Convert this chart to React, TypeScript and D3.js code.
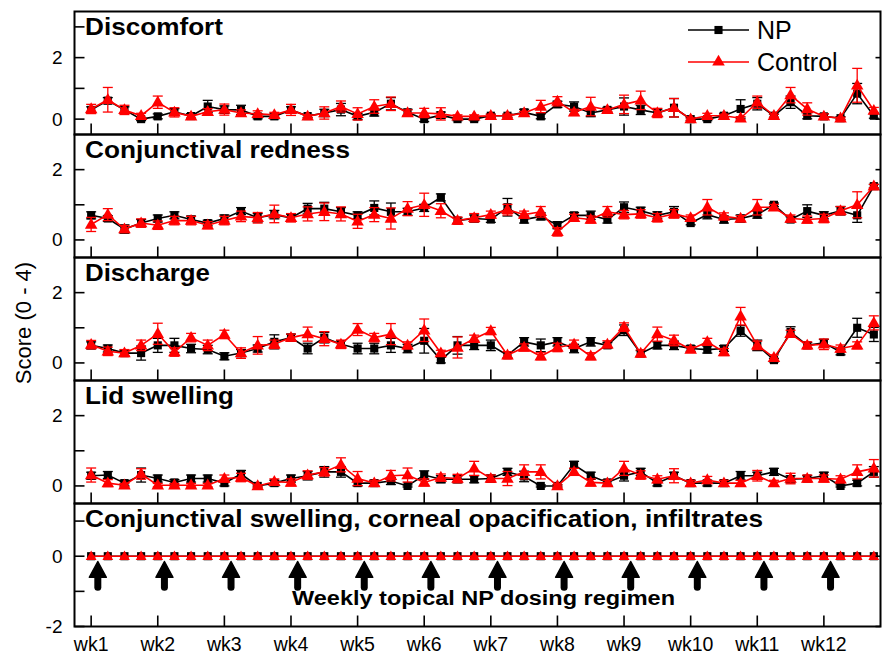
import { useEffect, useRef } from "react";
import * as d3 from "d3";

// x axis: 12 weeks, 4 observations per week
const weekLabels = ["wk1", "wk2", "wk3", "wk4", "wk5", "wk6", "wk7", "wk8", "wk9", "wk10", "wk11", "wk12"];
const obsPerWeek = 4;

// Discomfort
const npDiscomfort = [0.3, 0.6, 0.3, 0.0, 0.09, 0.24, 0.1, 0.41, 0.31, 0.3, 0.09, 0.09, 0.3, 0.1, 0.2, 0.31, 0.09, 0.22, 0.5, 0.22, 0.0, 0.13, 0.0, 0.0, 0.11, 0.11, 0.22, 0.09, 0.48, 0.41, 0.2, 0.3, 0.41, 0.3, 0.2, 0.37, 0.0, 0.0, 0.11, 0.33, 0.5, 0.11, 0.55, 0.11, 0.09, 0.03, 0.83, 0.11];
const npErrDiscomfort = [0.1, 0.1, 0.1, 0.05, 0.08, 0.1, 0.08, 0.2, 0.12, 0.15, 0.08, 0.08, 0.1, 0.05, 0.12, 0.2, 0.1, 0.12, 0.2, 0.1, 0.08, 0.1, 0.05, 0.05, 0.05, 0.05, 0.1, 0.08, 0.1, 0.15, 0.12, 0.08, 0.28, 0.15, 0.12, 0.3, 0.05, 0.05, 0.08, 0.3, 0.2, 0.05, 0.2, 0.1, 0.08, 0.05, 0.33, 0.08];
const ctrlDiscomfort = [0.33, 0.63, 0.3, 0.11, 0.55, 0.22, 0.09, 0.24, 0.31, 0.2, 0.17, 0.14, 0.3, 0.09, 0.2, 0.41, 0.17, 0.41, 0.5, 0.2, 0.2, 0.17, 0.09, 0.09, 0.11, 0.11, 0.2, 0.41, 0.58, 0.22, 0.41, 0.3, 0.48, 0.61, 0.2, 0.37, 0.0, 0.11, 0.11, 0.03, 0.55, 0.11, 0.78, 0.33, 0.09, 0.03, 1.1, 0.28];
const ctrlErrDiscomfort = [0.15, 0.4, 0.15, 0.08, 0.2, 0.15, 0.05, 0.1, 0.18, 0.1, 0.1, 0.08, 0.18, 0.05, 0.2, 0.18, 0.2, 0.22, 0.22, 0.1, 0.15, 0.2, 0.05, 0.05, 0.05, 0.05, 0.05, 0.2, 0.15, 0.1, 0.3, 0.05, 0.3, 0.3, 0.15, 0.3, 0.03, 0.08, 0.05, 0.05, 0.2, 0.05, 0.25, 0.2, 0.08, 0.03, 0.55, 0.1];

// Conjunctival redness
const npRedness = [0.7, 0.61, 0.31, 0.48, 0.61, 0.7, 0.58, 0.48, 0.61, 0.82, 0.63, 0.72, 0.63, 0.89, 0.89, 0.8, 0.7, 0.91, 0.8, 0.8, 0.91, 1.21, 0.55, 0.61, 0.58, 0.93, 0.58, 0.67, 0.42, 0.7, 0.7, 0.58, 0.93, 0.83, 0.7, 0.8, 0.48, 0.72, 0.58, 0.61, 0.72, 1.0, 0.58, 0.82, 0.7, 0.83, 0.7, 1.53];
const npErrRedness = [0.1, 0.08, 0.12, 0.1, 0.1, 0.1, 0.1, 0.08, 0.1, 0.1, 0.12, 0.12, 0.1, 0.15, 0.18, 0.12, 0.1, 0.2, 0.25, 0.1, 0.1, 0.1, 0.08, 0.1, 0.08, 0.25, 0.1, 0.1, 0.1, 0.08, 0.12, 0.1, 0.15, 0.1, 0.1, 0.15, 0.05, 0.12, 0.1, 0.1, 0.1, 0.05, 0.08, 0.18, 0.1, 0.12, 0.2, 0.05];
const ctrlRedness = [0.44, 0.72, 0.31, 0.48, 0.42, 0.55, 0.55, 0.42, 0.55, 0.67, 0.63, 0.74, 0.63, 0.74, 0.8, 0.74, 0.53, 0.72, 0.61, 0.89, 1.0, 0.83, 0.55, 0.63, 0.72, 0.86, 0.72, 0.8, 0.23, 0.63, 0.58, 0.8, 0.72, 0.74, 0.63, 0.74, 0.63, 0.93, 0.67, 0.61, 0.93, 0.93, 0.61, 0.58, 0.61, 0.83, 1.0, 1.53];
const ctrlErrRedness = [0.2, 0.17, 0.1, 0.12, 0.12, 0.12, 0.12, 0.1, 0.12, 0.15, 0.15, 0.25, 0.12, 0.2, 0.25, 0.2, 0.2, 0.2, 0.3, 0.2, 0.33, 0.2, 0.1, 0.12, 0.1, 0.15, 0.1, 0.15, 0.12, 0.1, 0.1, 0.15, 0.12, 0.12, 0.12, 0.12, 0.08, 0.22, 0.1, 0.08, 0.22, 0.08, 0.1, 0.1, 0.12, 0.12, 0.37, 0.05];

// Discharge
const npDischarge = [0.5, 0.41, 0.28, 0.28, 0.5, 0.5, 0.41, 0.38, 0.19, 0.28, 0.41, 0.6, 0.72, 0.41, 0.72, 0.53, 0.41, 0.41, 0.5, 0.41, 0.63, 0.08, 0.5, 0.5, 0.5, 0.22, 0.6, 0.5, 0.6, 0.41, 0.6, 0.5, 0.93, 0.27, 0.5, 0.5, 0.41, 0.38, 0.41, 0.91, 0.5, 0.08, 0.88, 0.5, 0.57, 0.31, 1.0, 0.81];
const npErrDischarge = [0.1, 0.1, 0.08, 0.2, 0.2, 0.2, 0.12, 0.12, 0.1, 0.1, 0.1, 0.2, 0.1, 0.15, 0.15, 0.1, 0.15, 0.15, 0.2, 0.12, 0.35, 0.08, 0.25, 0.12, 0.15, 0.08, 0.12, 0.18, 0.12, 0.12, 0.12, 0.08, 0.15, 0.08, 0.1, 0.12, 0.08, 0.1, 0.08, 0.15, 0.15, 0.05, 0.15, 0.08, 0.1, 0.08, 0.27, 0.2];
const ctrlDischarge = [0.52, 0.33, 0.28, 0.5, 0.83, 0.31, 0.72, 0.5, 0.81, 0.28, 0.5, 0.53, 0.72, 0.82, 0.69, 0.53, 0.95, 0.72, 0.82, 0.5, 0.93, 0.28, 0.44, 0.69, 0.91, 0.22, 0.44, 0.19, 0.44, 0.53, 0.19, 0.53, 1.02, 0.27, 0.82, 0.64, 0.38, 0.6, 0.31, 1.33, 0.5, 0.15, 0.83, 0.5, 0.53, 0.41, 0.5, 1.14];
const ctrlErrDischarge = [0.12, 0.12, 0.1, 0.15, 0.3, 0.12, 0.12, 0.15, 0.12, 0.15, 0.25, 0.12, 0.1, 0.2, 0.2, 0.12, 0.17, 0.12, 0.3, 0.1, 0.32, 0.08, 0.3, 0.1, 0.1, 0.1, 0.1, 0.1, 0.12, 0.12, 0.1, 0.1, 0.12, 0.1, 0.2, 0.15, 0.08, 0.1, 0.1, 0.25, 0.12, 0.08, 0.1, 0.1, 0.15, 0.1, 0.1, 0.2];

// Lid swelling
const npLid = [0.29, 0.31, 0.08, 0.31, 0.21, 0.1, 0.21, 0.21, 0.08, 0.34, 0.0, 0.08, 0.21, 0.29, 0.4, 0.4, 0.08, 0.08, 0.14, 0.0, 0.31, 0.19, 0.19, 0.19, 0.21, 0.4, 0.27, 0.0, 0.0, 0.6, 0.29, 0.1, 0.29, 0.4, 0.08, 0.29, 0.08, 0.08, 0.08, 0.29, 0.29, 0.4, 0.19, 0.21, 0.29, 0.0, 0.08, 0.4];
const npErrLid = [0.1, 0.1, 0.08, 0.2, 0.1, 0.08, 0.1, 0.1, 0.08, 0.1, 0.03, 0.08, 0.1, 0.12, 0.15, 0.15, 0.08, 0.08, 0.1, 0.03, 0.12, 0.1, 0.1, 0.1, 0.1, 0.1, 0.15, 0.03, 0.03, 0.1, 0.1, 0.08, 0.15, 0.1, 0.08, 0.1, 0.08, 0.08, 0.08, 0.12, 0.1, 0.1, 0.1, 0.08, 0.1, 0.03, 0.08, 0.15];
const ctrlLid = [0.31, 0.08, 0.02, 0.34, 0.02, 0.02, 0.02, 0.02, 0.21, 0.24, 0.0, 0.12, 0.1, 0.31, 0.4, 0.6, 0.21, 0.08, 0.29, 0.31, 0.1, 0.24, 0.21, 0.5, 0.21, 0.21, 0.4, 0.4, 0.0, 0.4, 0.1, 0.08, 0.5, 0.31, 0.19, 0.29, 0.08, 0.17, 0.08, 0.08, 0.29, 0.08, 0.21, 0.21, 0.21, 0.19, 0.4, 0.5];
const ctrlErrLid = [0.2, 0.1, 0.05, 0.15, 0.05, 0.05, 0.05, 0.05, 0.1, 0.12, 0.03, 0.08, 0.1, 0.12, 0.12, 0.2, 0.2, 0.08, 0.15, 0.2, 0.1, 0.1, 0.12, 0.2, 0.1, 0.2, 0.2, 0.2, 0.03, 0.1, 0.1, 0.08, 0.2, 0.12, 0.1, 0.2, 0.08, 0.1, 0.08, 0.08, 0.15, 0.08, 0.15, 0.1, 0.1, 0.1, 0.2, 0.25];

// Conjunctival swelling, corneal opacification, infiltrates
const npSwelling = [0, 0, 0, 0, 0, 0, 0, 0, 0, 0, 0, 0, 0, 0, 0, 0, 0, 0, 0, 0, 0, 0, 0, 0, 0, 0, 0, 0, 0, 0, 0, 0, 0, 0, 0, 0, 0, 0, 0, 0, 0, 0, 0, 0, 0, 0, 0, 0];
const ctrlSwelling = [0, 0, 0, 0, 0, 0, 0, 0, 0, 0, 0, 0, 0, 0, 0, 0, 0, 0, 0, 0, 0, 0, 0, 0, 0, 0, 0, 0, 0, 0, 0, 0, 0, 0, 0, 0, 0, 0, 0, 0, 0, 0, 0, 0, 0, 0, 0, 0];

const panelTitles = ["Discomfort", "Conjunctival redness", "Discharge", "Lid swelling", "Conjunctival swelling, corneal opacification, infiltrates"];
const titleWidths = [138, 265, 125, 149, 678];

const panels = [
  { np: npDiscomfort, npErr: npErrDiscomfort, ctrl: ctrlDiscomfort, ctrlErr: ctrlErrDiscomfort, domain: [-0.5, 3.5], ticks: [0, 1, 2, 3], labels: [0, 2] },
  { np: npRedness, npErr: npErrRedness, ctrl: ctrlRedness, ctrlErr: ctrlErrRedness, domain: [-0.5, 3], ticks: [0, 1, 2], labels: [0, 2] },
  { np: npDischarge, npErr: npErrDischarge, ctrl: ctrlDischarge, ctrlErr: ctrlErrDischarge, domain: [-0.5, 3], ticks: [0, 1, 2], labels: [0, 2] },
  { np: npLid, npErr: npErrLid, ctrl: ctrlLid, ctrlErr: ctrlErrLid, domain: [-0.5, 3], ticks: [0, 1, 2], labels: [0, 2] },
  { np: npSwelling, npErr: null, ctrl: ctrlSwelling, ctrlErr: null, domain: [-2, 1.5], ticks: [-2, -1, 0, 1], labels: [-2, 0] },
];

const FONT = "'Liberation Sans', Arial, Helvetica, sans-serif";

const App = () => {
  const ref = useRef<SVGSVGElement>(null);

  useEffect(() => {
    const svg = d3.select(ref.current);
    svg.selectAll("*").remove();

    const left = 74.5;
    const right = 880.5;
    const top = 11.5;
    const panelH = 123;

    const x = d3.scaleLinear().domain([0.75, 12.85]).range([left, right]);
    const times = npDiscomfort.map((_, i) => 1 + i / obsPerWeek);
    const weeks = weekLabels.map((_, i) => i + 1);

    const square = d3.symbol().type(d3.symbolSquare).size(66);
    const triangle = d3.symbol().type(d3.symbolTriangle).size(68);
    const smallTriangle = d3.symbol().type(d3.symbolTriangle).size(50);

    panels.forEach((p, k) => {
      const y0 = top + k * panelH;
      const y1 = y0 + panelH;
      const y = d3.scaleLinear().domain(p.domain).range([y1, y0]);
      const g = svg.append("g");
      const last = k === panels.length - 1;

      const series = [
        { vals: p.np, err: p.npErr, color: "#000000", sym: square, dy: 0 },
        { vals: p.ctrl, err: p.ctrlErr, color: "#ff0000", sym: last ? smallTriangle : triangle, dy: 0.6 },
      ];

      series.forEach((s) => {
        if (s.err) {
          const eb = g.append("g").attr("stroke", s.color).attr("stroke-width", 1.3);
          s.vals.forEach((v, i) => {
            const e = s.err![i];
            const cx = x(times[i]);
            eb.append("line").attr("x1", cx).attr("x2", cx).attr("y1", y(v - e)).attr("y2", y(v + e));
            eb.append("line").attr("x1", cx - 5).attr("x2", cx + 5).attr("y1", y(v - e)).attr("y2", y(v - e));
            eb.append("line").attr("x1", cx - 5).attr("x2", cx + 5).attr("y1", y(v + e)).attr("y2", y(v + e));
          });
        }
        const line = d3.line<number>().x((_, i) => x(times[i])).y((d) => y(d));
        g.append("path")
          .attr("d", line(s.vals))
          .attr("fill", "none")
          .attr("stroke", s.color)
          .attr("stroke-width", 1.6);
        g.selectAll(null)
          .data(s.vals)
          .enter()
          .append("path")
          .attr("d", s.sym)
          .attr("transform", (d, i) => `translate(${x(times[i])},${y(d) + s.dy})`)
          .attr("fill", s.color);
      });

      // frame
      g.append("rect")
        .attr("x", left)
        .attr("y", y0)
        .attr("width", right - left)
        .attr("height", panelH)
        .attr("fill", "none")
        .attr("stroke", "#000")
        .attr("stroke-width", 2);

      // y ticks (inward)
      p.ticks.forEach((t) => {
        g.append("line").attr("x1", left).attr("x2", left + 10).attr("y1", y(t)).attr("y2", y(t)).attr("stroke", "#000").attr("stroke-width", 1.6);
      });
      p.labels.forEach((t) => {
        g.append("line").attr("x1", right - 5).attr("x2", right).attr("y1", y(t)).attr("y2", y(t)).attr("stroke", "#000").attr("stroke-width", 1.6);
        g.append("text")
          .attr("x", left - 12)
          .attr("y", y(t) + 6.5)
          .attr("text-anchor", "end")
          .attr("font-family", FONT)
          .attr("font-size", 19)
          .text(t < 0 ? `-${Math.abs(t)}` : `${t}`);
      });

      // x ticks at bottom of each panel (inward)
      weeks.forEach((w) => {
        g.append("line").attr("x1", x(w)).attr("x2", x(w)).attr("y1", y1).attr("y2", y1 - 11).attr("stroke", "#000").attr("stroke-width", 1.6);
      });

      g.append("text")
        .attr("x", 85)
        .attr("y", y0 + 23.5)
        .attr("font-family", FONT)
        .attr("font-weight", "bold")
        .attr("font-size", 24)
        .attr("textLength", titleWidths[k])
        .attr("lengthAdjust", "spacingAndGlyphs")
        .text(panelTitles[k]);

      // dosing arrows in the last panel
      if (last) {
        const ag = g.append("g").attr("fill", "#000").attr("stroke", "#000");
        weeks.forEach((w) => {
          const cx = x(w + 0.1);
          ag.append("line")
            .attr("x1", cx)
            .attr("x2", cx)
            .attr("y1", y(-0.5))
            .attr("y2", y(-0.88))
            .attr("stroke-width", 7)
            .attr("stroke-linecap", "round");
          ag.append("path")
            .attr("d", `M${cx},${y(-0.15)} L${cx + 8.5},${y(-0.6)} L${cx - 8.5},${y(-0.6)} Z`)
            .attr("stroke-width", 1.5)
            .attr("stroke-linejoin", "round");
        });
        g.append("text")
          .attr("x", 292)
          .attr("y", 605)
          .attr("font-family", FONT)
          .attr("font-weight", "bold")
          .attr("font-size", 20)
          .attr("textLength", 383)
          .attr("lengthAdjust", "spacingAndGlyphs")
          .text("Weekly topical NP dosing regimen");
      }
    });

    // week labels
    svg
      .append("g")
      .selectAll("text")
      .data(weekLabels)
      .enter()
      .append("text")
      .attr("x", (_, i) => x(weeks[i]))
      .attr("y", 651)
      .attr("text-anchor", "middle")
      .attr("font-family", FONT)
      .attr("font-size", 19.5)
      .text((d) => d);

    // y axis title
    svg
      .append("text")
      .attr("transform", "translate(31,323) rotate(-90)")
      .attr("text-anchor", "middle")
      .attr("font-family", FONT)
      .attr("font-size", 22)
      .text("Score (0 - 4)");

    // legend
    const legend = svg.append("g");
    const legendItems = [
      { label: "NP", color: "#000000", sym: square, cy: 30 },
      { label: "Control", color: "#ff0000", sym: triangle, cy: 62 },
    ];
    legendItems.forEach((l) => {
      legend.append("line").attr("x1", 688).attr("x2", 749).attr("y1", l.cy).attr("y2", l.cy).attr("stroke", l.color).attr("stroke-width", 1.6);
      legend.append("path").attr("d", l.sym).attr("transform", `translate(718.5,${l.cy})`).attr("fill", l.color);
      legend
        .append("text")
        .attr("x", 757)
        .attr("y", l.cy + 9)
        .attr("font-family", FONT)
        .attr("font-size", 25)
        .text(l.label);
    });
  }, []);

  return (
    <div style={{ position: "absolute", left: 0, top: 0 }}>
      <svg ref={ref} width={882} height={657} style={{ display: "block", background: "#fff" }} />
    </div>
  );
};

export default App;
